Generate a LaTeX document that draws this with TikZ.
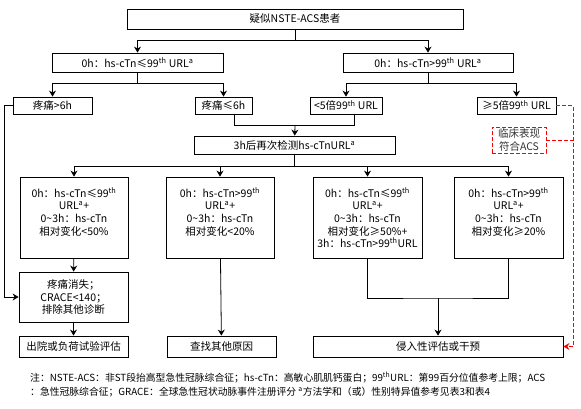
\documentclass[tikz,border=0pt]{standalone}
\usepackage{fontspec}
\setmainfont{Noto Sans CJK SC}
\usetikzlibrary{arrows.meta}
\newcommand\celltext[1]{\parbox[c][60pt][t]{104pt}{\centering #1}}

\begin{document}
\begin{tikzpicture}[x=1pt,y=-1pt,>={Stealth[length=6pt,width=7pt]},
  box/.style={draw,line width=0.8pt,inner sep=0pt,align=center,font=\fontsize{10.5}{12.6}\selectfont},
  cell/.style={box,minimum width=108pt,minimum height=81pt},
  link/.style={line width=0.8pt},
  alert/.style={draw=red,dash pattern=on 4pt off 2pt,line width=0.9pt}]
\useasboundingbox (0,0) rectangle (581,408);

\node[box,minimum width=336pt,minimum height=20pt] (susp) at (295,19) {疑似NSTE-ACS患者};
\node[box,minimum width=171pt,minimum height=19pt] (low0) at (137.5,62.5) {0h：hs-cTn≤99\textsuperscript{th} URL\textsuperscript{a}};
\node[box,minimum width=170pt,minimum height=19pt] (high0) at (428,62.5) {0h：hs-cTn>99\textsuperscript{th} URL\textsuperscript{a}};
\node[box,minimum width=79pt,minimum height=17pt] (painlong) at (52.5,105.5) {疼痛>6h};
\node[box,minimum width=57pt,minimum height=17pt] (painshort) at (223.5,105.5) {疼痛≤6h};
\node[box,minimum width=72pt,minimum height=17pt] (lowfold) at (346,105.5) {<5倍99\textsuperscript{th} URL};
\node[box,minimum width=79pt,minimum height=17pt] (highfold) at (516.5,105.5) {≥5倍99\textsuperscript{th} URL};
\node[box,minimum width=201pt,minimum height=18pt] (retest) at (294.5,145) {3h后再次检测hs-cTnURL\textsuperscript{a}};
\node[box,alert,text=black!80,minimum width=54pt,minimum height=26pt] (clinic) at (519,140) {临床表现\\符合ACS};

\node[cell] (caseA) at (74,217.5) {\celltext{0h：hs-cTn≤99\textsuperscript{th}\\URL\textsuperscript{a}+\\0\textasciitilde3h：hs-cTn\\相对变化<50\%}};
\node[cell] (caseB) at (220,217.5) {\celltext{0h：hs-cTn>99\textsuperscript{th}\\URL\textsuperscript{a}+\\0\textasciitilde3h：hs-cTn\\相对变化<20\%}};
\node[cell,minimum width=109pt] (caseC) at (367.5,217.5) {\celltext{0h：hs-cTn≤99\textsuperscript{th}\\URL\textsuperscript{a}+\\0\textasciitilde3h：hs-cTn\\相对变化≥50\%+\\3h：hs-cTn>99\textsuperscript{th}URL}};
\node[cell,minimum width=109pt] (caseD) at (508.5,217.5) {\celltext{0h：hs-cTn>99\textsuperscript{th}\\URL\textsuperscript{a}+\\0\textasciitilde3h：hs-cTn\\相对变化≥20\%}};

\node[box,minimum width=109pt,minimum height=50pt] (relief) at (73.5,297) {疼痛消失；\\CRACE<140；\\排除其他诊断};
\node[box,minimum width=109pt,minimum height=21pt] (disch) at (73.5,346.5) {出院或负荷试验评估};
\node[box,minimum width=109pt,minimum height=21pt] (other) at (221.5,346.5) {查找其他原因};
\node[box,minimum width=250pt,minimum height=21pt] (invas) at (438,346.5) {侵入性评估或干预};

\node[anchor=north west,align=left,inner sep=0pt,font=\fontsize{9.8}{14}\selectfont] (note) at (30,372) {注：NSTE-ACS：非ST段抬高型急性冠脉综合征；hs-cTn：高敏心肌肌钙蛋白；99\textsuperscript{th}URL：第99百分位值参考上限；ACS\\：急性冠脉综合征；GRACE：全球急性冠状动脉事件注册评分 \textsuperscript{a}方法学和（或）性别特异值参考见表3和表4};

\coordinate (split0) at (295,40);
\coordinate (splitlow) at (137.5,83);
\coordinate (splithigh) at (428,83);
\coordinate (merge) at (295,125);
\coordinate (split3h) at (294.5,166);
\coordinate (joinCD) at (438,298);
\coordinate (redline) at (573,200);

\draw[link] (susp) -- (split0);
\draw[link,->] (split0) -| (low0);
\draw[link,->] (split0) -| (high0);
\draw[link] (low0) -- (splitlow);
\draw[link,->] (splitlow) -| (painlong);
\draw[link,->] (splitlow) -| (painshort);
\draw[link] (high0) -- (splithigh);
\draw[link,->] (splithigh) -| (lowfold);
\draw[link,->] (splithigh) -| (highfold);
\draw[link] ([xshift=11pt]painshort.south) |- (merge);
\draw[link] ([xshift=8pt]lowfold.south) |- (merge);
\draw[link,->] (merge) -- (retest);
\draw[link] (retest) -- (split3h);
\draw[link,->] (split3h) -| (caseA);
\draw[link,->] (split3h) -| (caseB);
\draw[link,->] (split3h) -| (caseC);
\draw[link,->] (split3h) -| (caseD);
\draw[link,->] (caseA) -- (relief);
\draw[link,->] (relief) -- (disch);
\draw[link,->] (painlong.west) -- ++(-8,0) |- (relief.west);
\draw[link,->] (caseB) -- (other);
\draw[link] (caseC.south) |- (joinCD) -| (caseD.south);
\draw[link,->] (joinCD) -- (invas);
\draw[alert,->] (highfold.east) -| (redline) |- (invas.east);
\draw[alert] (clinic.east) -- (clinic.east -| redline);
\end{tikzpicture}
\end{document}
